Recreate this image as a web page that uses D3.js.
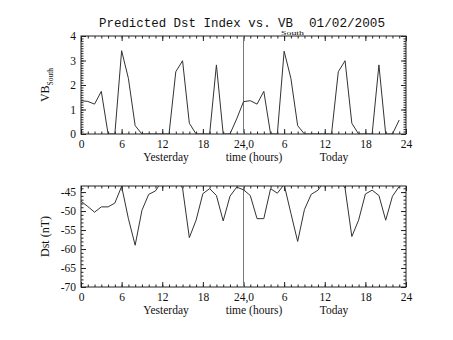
<!DOCTYPE html>
<html><head><meta charset="utf-8">
<script src="https://cdn.jsdelivr.net/npm/d3@7"></script>
<style>body{margin:0;background:#fff}svg{display:block}text{fill:#111}</style>
</head><body><svg id="c" width="453" height="340"></svg>
<script>
// ---- data (hour index 0..47: yesterday 0-23, today 24-47) ----
const hours = d3.range(0, 48);
const vbSouth = [1.36,1.33,1.22,1.74,0,0,3.4,2.27,0.34,0,0,0,0,0,2.54,2.99,0.44,0,0,0,2.82,0,0,0.62,
                 1.32,1.36,1.22,1.74,0,0,3.38,2.27,0.34,0,0,0,0,0,2.54,2.99,0.44,0,0,0,2.82,0,0,0.57];
const dst = [-47.4,-48.8,-50.3,-48.9,-48.9,-47.9,-43.5,-52.0,-59.0,-49.8,-45.6,-44.7,-42.0,-42.0,-41.0,-44.0,-57.0,-52.4,-45.4,-44.1,-45.9,-52.6,-46.1,-43.7,
             -44.4,-45.9,-52.0,-52.0,-44.1,-45.3,-43.0,-50.6,-58.0,-49.6,-45.6,-44.5,-42.0,-42.0,-41.0,-44.0,-56.7,-52.4,-45.5,-44.5,-45.9,-52.4,-46.1,-43.5];
const xTickValues = [0,6,12,18,24,30,36,42,48];
const xTickLabels = ["0","6","12","18","24,0","6","12","18","24"];
const vbTicks = [0,1,2,3,4];
const dstTicks = [-70,-65,-60,-55,-50,-45];
const titleMain = "Predicted Dst Index vs. VB";
const titleSub = "South";
const titleDate = "01/02/2005";
const dayLabels = ["Yesterday","time (hours)","Today"];

const svg = d3.select("#c");
svg.append("rect").attr("width",453).attr("height",340).attr("fill","#fff");
const serif = "'Liberation Serif', 'DejaVu Serif', serif";
const mono = "'Liberation Mono', 'DejaVu Sans Mono', monospace";
const x = d3.scaleLinear().domain([0,48]).range([81,406]);
const ink = "#222";

function panel(opts){
  const {y, data, ticks, minorStep, fmt, id} = opts;
  const [y0,y1] = y.range(); // bottom, top
  const g = svg.append("g");
  svg.append("clipPath").attr("id",id).append("rect")
     .attr("x",x(0)).attr("y",y1).attr("width",x(48)-x(0)).attr("height",y0-y1);
  const xMinor = d3.range(0,49,1);
  const [dmin,dmax] = y.domain();
  const yMinor = d3.range(Math.ceil(dmin/minorStep)*minorStep, dmax+1e-9, minorStep).map(v=>+v.toFixed(4));
  const ax = (gen)=>{ const a=g.append("g").call(gen).attr("font-family",serif).attr("font-size",11.5);
    a.select(".domain").remove(); a.selectAll("line").attr("stroke",ink); return a; };
  ax(d3.axisBottom(x).tickValues(xMinor).tickSize(-2.5).tickFormat("")).attr("transform",`translate(0,${y0})`);
  ax(d3.axisTop(x).tickValues(xMinor).tickSize(-2.5).tickFormat("")).attr("transform",`translate(0,${y1})`);
  ax(d3.axisLeft(y).tickValues(yMinor).tickSize(-2.5).tickFormat("")).attr("transform",`translate(${x(0)},0)`);
  ax(d3.axisRight(y).tickValues(yMinor).tickSize(-2.5).tickFormat("")).attr("transform",`translate(${x(48)},0)`);
  const xb = ax(d3.axisBottom(x).tickValues(xTickValues).tickSize(-5).tickPadding(6)
        .tickFormat((d,i)=>xTickLabels[i])).attr("transform",`translate(0,${y0})`);
  xb.selectAll("text").attr("font-family",serif).attr("font-size",11.5).attr("fill","#111");
  ax(d3.axisTop(x).tickValues(xTickValues).tickSize(-5).tickFormat("")).attr("transform",`translate(0,${y1})`);
  const yl = ax(d3.axisLeft(y).tickValues(ticks).tickSize(-5).tickPadding(5).tickFormat(fmt)).attr("transform",`translate(${x(0)},0)`);
  yl.selectAll("text").attr("font-family",serif).attr("font-size",11.5).attr("fill","#111");
  ax(d3.axisRight(y).tickValues(ticks).tickSize(-5).tickFormat("")).attr("transform",`translate(${x(48)},0)`);
  g.append("rect").attr("x",x(0)).attr("y",y1).attr("width",x(48)-x(0)).attr("height",y0-y1)
    .attr("fill","none").attr("stroke",ink).attr("stroke-width",1);
  g.append("line").attr("x1",x(24)).attr("x2",x(24)).attr("y1",y1).attr("y2",y0)
    .attr("stroke","#777").attr("stroke-width",1);
  const line = d3.line().x((d,i)=>x(hours[i])).y(d=>y(d));
  g.append("path").datum(data).attr("d",line).attr("fill","none")
    .attr("stroke","#333").attr("stroke-width",1).attr("clip-path",`url(#${id})`);
  const ly = y0 + 27;
  [[166,dayLabels[0]],[254,dayLabels[1]],[334,dayLabels[2]]].forEach(([cx,t])=>{
    g.append("text").attr("x",cx).attr("y",ly).attr("text-anchor","middle")
     .attr("font-family",serif).attr("font-size",11.5).text(t);
  });
  return g;
}

const yTop = d3.scaleLinear().domain([0,4]).range([134,36]);
const yBot = d3.scaleLinear().domain([-70,-43.4]).range([287,186]);
panel({y:yTop,data:vbSouth,ticks:vbTicks,minorStep:0.1,fmt:d3.format("d"),id:"clipTop"});
panel({y:yBot,data:dst,ticks:dstTicks,minorStep:1,fmt:d=>"-"+Math.abs(d),id:"clipBot"});

// y-axis titles
const vbl = svg.append("text").attr("transform",`translate(49,${(134+36)/2}) rotate(-90)`)
  .attr("text-anchor","middle").attr("font-family",serif).attr("font-size",12);
vbl.append("tspan").text("VB");
vbl.append("tspan").attr("font-size",7.5).attr("dy",4).text("South");
svg.append("text").attr("transform",`translate(49,${(287+186)/2}) rotate(-90)`)
  .attr("text-anchor","middle").attr("font-family",serif).attr("font-size",12).text("Dst (nT)");

// title
svg.append("text").attr("x",99).attr("y",26.5).attr("font-family",mono).attr("font-size",12.6)
  .attr("textLength",194).attr("lengthAdjust","spacingAndGlyphs").text(titleMain);
svg.append("text").attr("x",281).attr("y",35.3).attr("font-family",serif).attr("font-size",6.8)
  .attr("textLength",23).attr("lengthAdjust","spacingAndGlyphs").text(titleSub);
svg.append("text").attr("x",309).attr("y",26.5).attr("font-family",mono).attr("font-size",12.6)
  .attr("textLength",76).attr("lengthAdjust","spacingAndGlyphs").text(titleDate);
</script></body></html>
